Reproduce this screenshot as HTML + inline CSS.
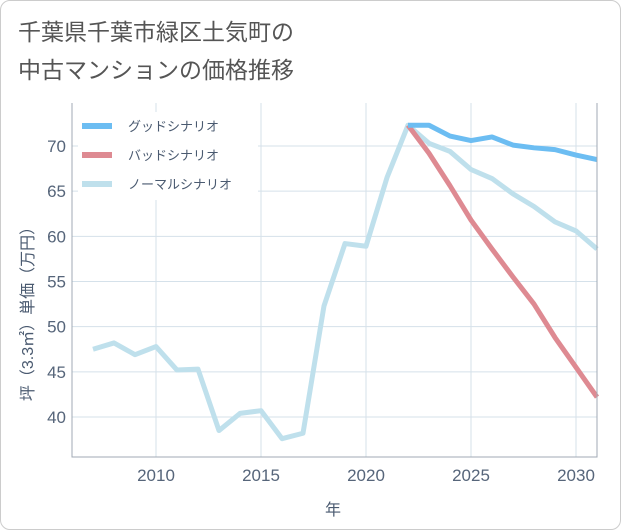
<!DOCTYPE html>
<html><head><meta charset="utf-8"><style>
body{margin:0;background:#fff;font-family:"Liberation Sans","Noto Sans CJK JP",sans-serif;}
#c{position:absolute;left:0;top:0;width:619px;height:528px;border:1px solid #ccc;border-radius:10px;}
</style></head><body>
<div id="c">
<svg id="svg" width="621" height="530" style="position:absolute;left:-1px;top:-1px">
<text x="18" y="40" font-size="23" fill="#555" font-family="Liberation Sans, Noto Sans CJK JP, sans-serif">千葉県千葉市緑区土気町の</text>
<text x="18" y="78" font-size="23" fill="#555" font-family="Liberation Sans, Noto Sans CJK JP, sans-serif">中古マンションの価格推移</text>
<g id="grid"></g><g id="series"></g><g id="axes"></g>
<text x="333" y="515" font-size="16" fill="#4a5a70" text-anchor="middle" font-family="Liberation Sans, Noto Sans CJK JP, sans-serif">年</text>
<text transform="translate(33,310) rotate(-90)" font-size="16" fill="#4a5a70" text-anchor="middle" font-family="Liberation Sans, Noto Sans CJK JP, sans-serif">坪（3.3㎡）単価（万円）</text>
<g id="legend"></g>
</svg></div>
<script>
const years=[2007,2008,2009,2010,2011,2012,2013,2014,2015,2016,2017,2018,2019,2020,2021,2022,2023,2024,2025,2026,2027,2028,2029,2030,2031];
const normal=[47.5,48.2,46.9,47.8,45.2,45.3,38.5,40.4,40.7,37.6,38.2,52.3,59.2,58.9,66.5,72.3,70.3,69.4,67.4,66.4,64.7,63.3,61.6,60.6,58.6];
const fYears=[2022,2023,2024,2025,2026,2027,2028,2029,2030,2031];
const good=[72.3,72.3,71.1,70.6,71.0,70.1,69.8,69.6,69.0,68.5];
const bad=[72.3,69.2,65.6,61.8,58.6,55.5,52.5,48.8,45.5,42.2];
const xTicks=[2010,2015,2020,2025,2030];
const yTicks=[40,45,50,55,60,65,70];
const L=72,R=597,T=103,B=457;
const xs=v=>156+(v-2010)*21;
const ys=v=>146+(70-v)*(271/30);
const NS="http://www.w3.org/2000/svg";
function mk(p,t,a){const e=document.createElementNS(NS,t);for(const k in a)e.setAttribute(k,a[k]);p.appendChild(e);return e;}
const grid=document.getElementById('grid'),axes=document.getElementById('axes'),ser=document.getElementById('series'),leg=document.getElementById('legend');
xTicks.forEach(t=>{const l=mk(grid,'line',{x1:xs(t),x2:xs(t),y1:T,y2:B,stroke:'#d5e1ea','stroke-width':1});

const tx=mk(axes,'text',{x:xs(t),y:481,'font-size':17,fill:'#56657a','text-anchor':'middle'});tx.textContent=t;
});
yTicks.forEach(t=>{const l=mk(grid,'line',{x1:L,x2:R,y1:ys(t),y2:ys(t),stroke:'#d5e1ea','stroke-width':1});

const tx=mk(axes,'text',{x:66,y:ys(t)+6,'font-size':17,fill:'#56657a','text-anchor':'end'});tx.textContent=t;
});
const fr=mk(axes,'path',{d:`M${L},${T}V${B}H${R}V${T}`,fill:'none',stroke:'#a0aab4','stroke-width':1});

function line(xv,yv,c,n){const d=xv.map((x,i)=>(i?'L':'M')+xs(x)+','+ys(yv[i])).join('');
const p=mk(ser,'path',{d:d,fill:'none',stroke:c,'stroke-width':5,'stroke-linejoin':'round'});
}
line(years,normal,'#bfe0ec','normal-scenario-line');
line(fYears,bad,'#de8a92','bad-scenario-line');
line(fYears,good,'#6cbdf2','good-scenario-line');
const lb=mk(leg,'rect',{x:78,y:112,width:180,height:88,fill:'#fff'});

[['グッドシナリオ','#6cbdf2'],['バッドシナリオ','#de8a92'],['ノーマルシナリオ','#bfe0ec']].forEach((e,i)=>{
const y=126+i*29;
const g=mk(leg,'g',{});
mk(g,'line',{x1:82,x2:112,y1:y,y2:y,stroke:e[1],'stroke-width':6});
const t=mk(g,'text',{x:128,y:y+5,'font-size':13,fill:'#4a5a70'});t.textContent=e[0];});
</script></body></html>
